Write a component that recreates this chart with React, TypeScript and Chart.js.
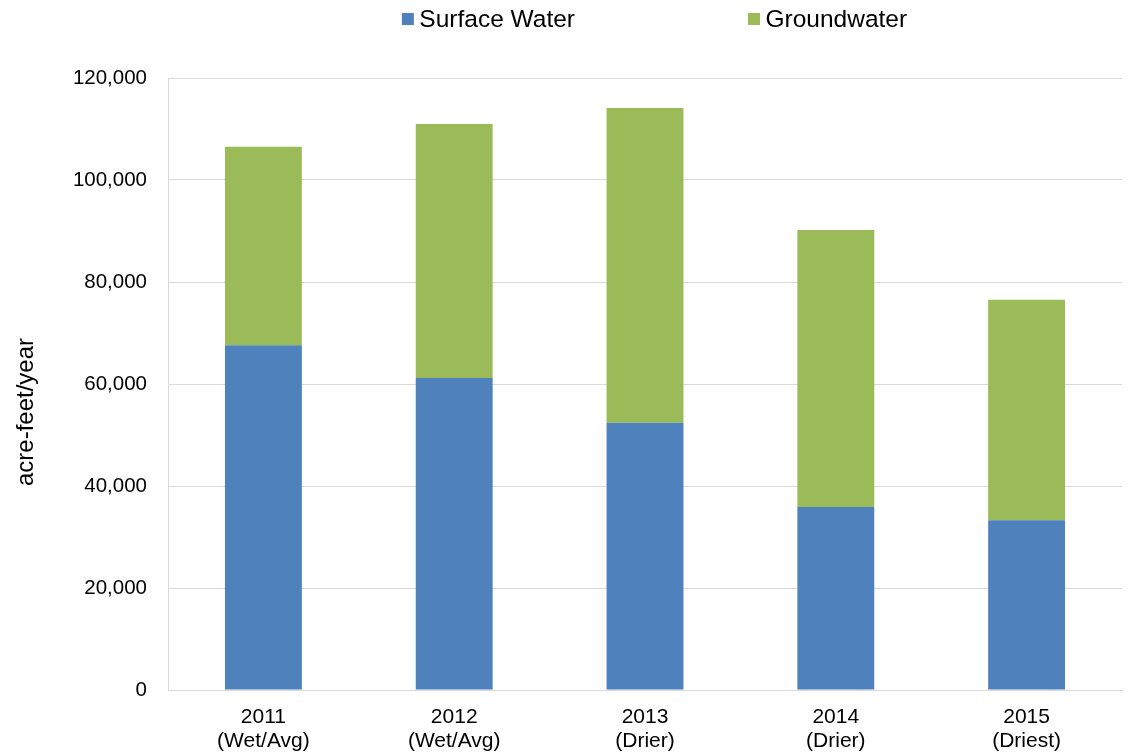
import React, { useEffect, useRef } from "react";
import { Chart, registerables } from "chart.js";

Chart.register(...registerables);

const categories: string[][] = [
  ["2011", "(Wet/Avg)"],
  ["2012", "(Wet/Avg)"],
  ["2013", "(Drier)"],
  ["2014", "(Drier)"],
  ["2015", "(Driest)"],
];
const surfaceWater: number[] = [67600, 61200, 52400, 35900, 33300];
const groundwater: number[] = [38900, 49800, 61700, 54300, 43200];
const seriesNames: string[] = ["Surface Water", "Groundwater"];
const seriesColors: string[] = ["#4F81BD", "#9BBB59"];
const yTickMax = 120000;
const yTickStep = 20000;
const yTitle = "acre-feet/year";

const FONT = "'Liberation Sans', Arial, sans-serif";

const legendPlugin = {
  id: "customLegend",
  afterDraw(chart: any) {
    const ctx = chart.ctx as CanvasRenderingContext2D;
    const area = chart.chartArea;
    const box = 12;
    const textGap = 5.5;
    const itemGap = 173;
    ctx.save();
    ctx.font = `24.5px ${FONT}`;
    ctx.textBaseline = "middle";
    ctx.textAlign = "left";
    const widths = seriesNames.map((n) => ctx.measureText(n).width);
    const total =
      widths.reduce((a, w) => a + box + textGap + w, 0) + itemGap * (seriesNames.length - 1);
    const center = (area.left + area.right) / 2 + 9.5;
    let x = center - total / 2;
    const y = 19;
    seriesNames.forEach((name, i) => {
      ctx.fillStyle = seriesColors[i];
      ctx.fillRect(x, y - box / 2, box, box);
      ctx.fillStyle = "#000";
      ctx.fillText(name, x + box + textGap, y + 1);
      x += box + textGap + widths[i] + itemGap;
    });
    ctx.restore();
  },
};

const yTitlePlugin = {
  id: "yTitle",
  afterDraw(chart: any) {
    const ctx = chart.ctx as CanvasRenderingContext2D;
    const area = chart.chartArea;
    ctx.save();
    ctx.font = `24px ${FONT}`;
    ctx.fillStyle = "#000";
    ctx.textAlign = "center";
    ctx.textBaseline = "middle";
    ctx.translate(26, (area.top + area.bottom) / 2 + 28);
    ctx.rotate(-Math.PI / 2);
    ctx.fillText(yTitle, 0, 0);
    ctx.restore();
  },
};

export default function App() {
  const ref = useRef<HTMLCanvasElement>(null);
  useEffect(() => {
    if (!ref.current) return;
    const chart = new Chart(ref.current, {
      type: "bar",
      data: {
        labels: categories,
        datasets: [
          {
            label: seriesNames[0],
            data: surfaceWater,
            backgroundColor: seriesColors[0],
            categoryPercentage: 1,
            barPercentage: 0.403,
          },
          {
            label: seriesNames[1],
            data: groundwater,
            backgroundColor: seriesColors[1],
            categoryPercentage: 1,
            barPercentage: 0.403,
          },
        ],
      },
      options: {
        responsive: false,
        animation: false,
        layout: { padding: { top: 78, right: 10, left: 0, bottom: 0 } },
        plugins: {
          legend: { display: false },
          tooltip: { enabled: false },
        },
        scales: {
          x: {
            stacked: true,
            grid: { display: false, drawTicks: false },
            border: { color: "#D9D9D9", width: 1 },
            ticks: {
              padding: 15,
              color: "#000",
              font: { family: FONT, size: 21, lineHeight: 1.15 },
              maxRotation: 0,
            },
            afterFit(scale: any) {
              scale.height = 62;
            },
          },
          y: {
            stacked: true,
            min: 0,
            max: yTickMax,
            grid: { color: "#D9D9D9", lineWidth: 1, drawTicks: false },
            border: { color: "#D9D9D9", width: 1 },
            ticks: {
              stepSize: yTickStep,
              padding: 21,
              color: "#000",
              font: { family: FONT, size: 20.5 },
            },
            title: { display: false, text: yTitle },
            afterFit(scale: any) {
              scale.width = 168;
            },
          },
        },
      },
      plugins: [legendPlugin, yTitlePlugin],
    });
    return () => chart.destroy();
  }, []);
  return (
    <div style={{ position: "absolute", left: 0, top: 0, width: 1132, height: 752, background: "#fff" }}>
      <canvas ref={ref} width={1132} height={752} />
    </div>
  );
}
